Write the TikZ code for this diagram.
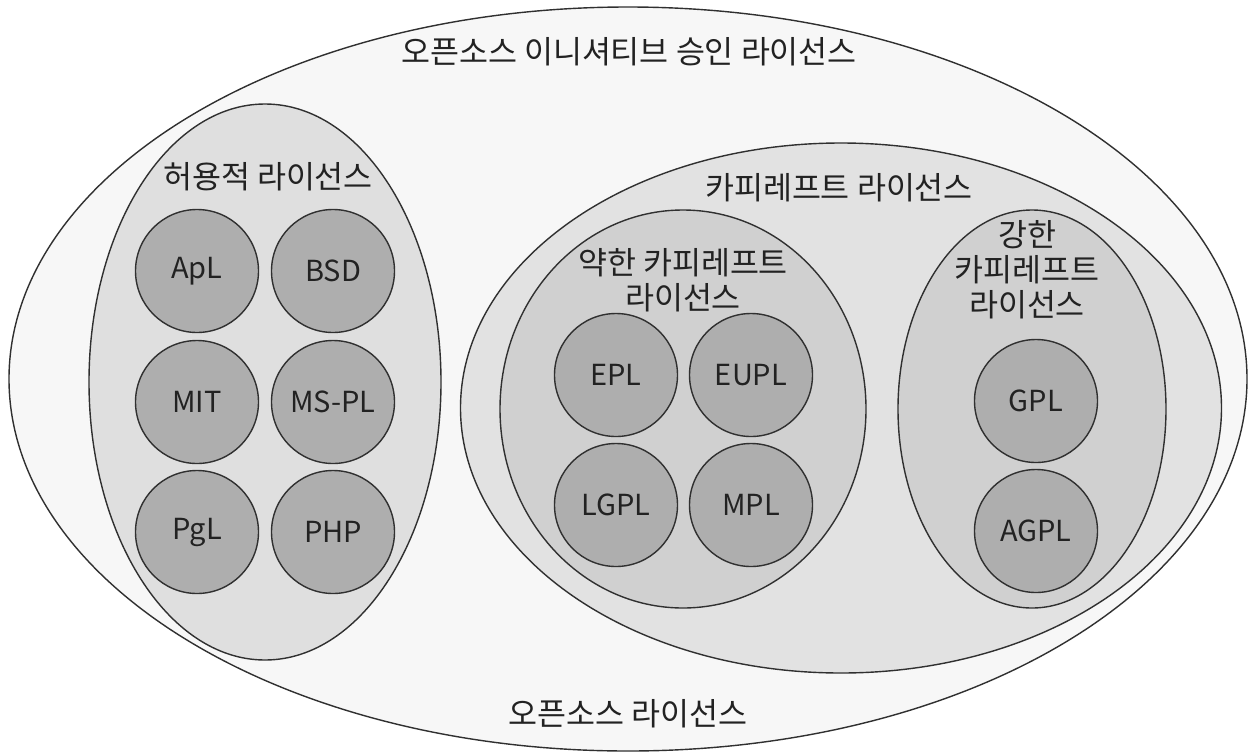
\documentclass[tikz,border=0pt]{standalone}
\usepackage{fontspec}
\setmainfont{Noto Sans CJK KR}
\usetikzlibrary{shapes.geometric}
\definecolor{linecol}{HTML}{303030}
\definecolor{outerfill}{HTML}{F7F7F7}
\definecolor{permfill}{HTML}{DFDFDF}
\definecolor{copyfill}{HTML}{E2E2E2}
\definecolor{midfill}{HTML}{D0D0D0}
\definecolor{licfill}{HTML}{AEAEAE}
\definecolor{textcol}{HTML}{222222}
\tikzset{
  region/.style={ellipse, draw=linecol, line width=1.4pt, inner sep=0pt},
  licence/.style={circle, draw=linecol, line width=1.4pt, fill=licfill, minimum size=123pt, inner sep=0pt, text=textcol, font=\fontsize{29}{35}\selectfont},
  caption/.style={text=textcol, font=\fontsize{31.5}{35}\selectfont, align=center, inner sep=0pt}
}
\begin{document}
\begin{tikzpicture}[x=1pt,y=-1pt]
\useasboundingbox (0,0) rectangle (1251,753);
\fill[white] (0,0) rectangle (1251,753);
% regions
\node[region, fill=outerfill, minimum width=1238pt, minimum height=744pt] (osi) at (628,379) {};
\node[region, fill=permfill, minimum width=352pt, minimum height=556pt] (perm) at (265,382) {};
\node[region, fill=copyfill, minimum width=761pt, minimum height=530pt] (copy) at (841,408) {};
\node[region, fill=midfill, minimum width=366pt, minimum height=398pt] (weak) at (683,409) {};
\node[region, fill=midfill, minimum width=268pt, minimum height=398pt] (strong) at (1032,409) {};
% captions
\node[caption] (osicap) at (629,52) {오픈소스 이니셔티브 승인 라이선스};
\node[caption] (oscap) at (628,714) {오픈소스 라이선스};
\node[caption] (permcap) at (268,177) {허용적 라이선스};
\node[caption] (copycap) at (839,188) {카피레프트 라이선스};
\node[caption] (weakcap) at (683,280) {약한 카피레프트\\라이선스};
\node[caption] (strongcap) at (1027,270) {강한\\카피레프트\\라이선스};
% permissive licences
\node[licence] (apl) at (197,271) {ApL};
\node[licence] (bsd) at (333,271) {BSD};
\node[licence] (mit) at (197,402) {MIT};
\node[licence] (mspl) at (333,402) {MS-PL};
\node[licence] (pgl) at (197,532) {PgL};
\node[licence] (php) at (333,532) {PHP};
% weak copyleft
\node[licence] (epl) at (616,375) {EPL};
\node[licence] (eupl) at (751,375) {EUPL};
\node[licence] (lgpl) at (616,505) {LGPL};
\node[licence] (mpl) at (751,505) {MPL};
% strong copyleft
\node[licence] (gpl) at (1036,401) {GPL};
\node[licence] (agpl) at (1036,531) {AGPL};
\end{tikzpicture}
\end{document}
